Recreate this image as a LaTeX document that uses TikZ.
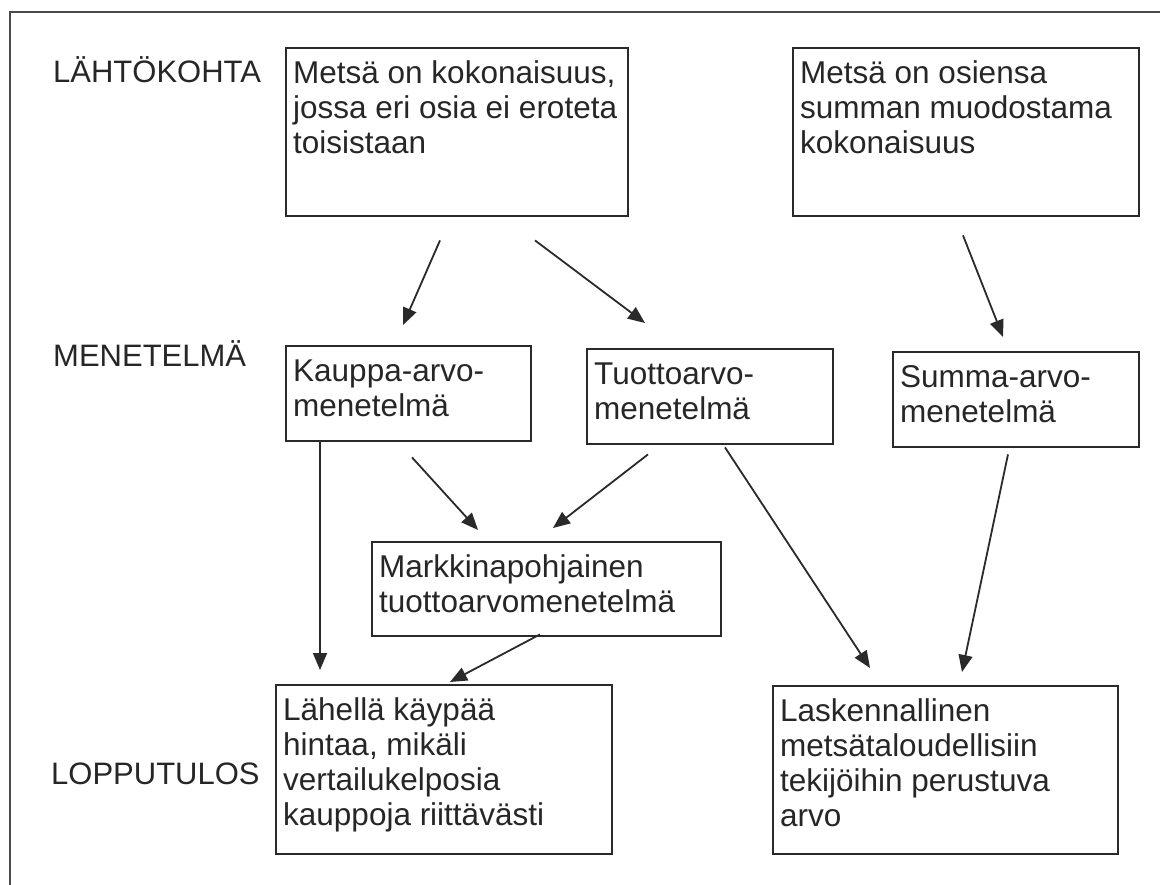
\documentclass[tikz,border=0pt]{standalone}
\usepackage{fontspec}
\setmainfont{Liberation Sans}
\usetikzlibrary{arrows.meta,calc}
\definecolor{txt}{HTML}{262626}
\definecolor{ln}{HTML}{2A2A2A}
\newcommand{\bxtext}[3]{\parbox[c][#2][t]{#1}{\raggedright\leftskip=7pt\rule{0pt}{35.5pt}#3}}
\tikzset{
  boxnode/.style={draw=ln, line width=2.4pt, inner sep=0pt, anchor=north west, text=txt,
    font=\fontsize{31.5}{35}\selectfont},
  lab/.style={anchor=base west, inner sep=0pt, text=txt, font=\fontsize{31}{35}\selectfont},
  arr/.style={draw=ln, line width=1.8pt, -{Triangle[length=17pt,width=14pt]}},
  frameline/.style={draw=ln!85, line width=2.5pt}
}
\begin{document}
\begin{tikzpicture}[x=1pt,y=-1pt]
\useasboundingbox (0,0) rectangle (1160,885);
\draw[frameline] (10,886) -- (10,12) -- (1161,12);

\node[lab] (l1) at (53,83) {LÄHTÖKOHTA};
\node[lab] (l2) at (53,367) {MENETELMÄ};
\node[lab] (l3) at (51,784) {LOPPUTULOS};

\node[boxnode] (box1) at (285,47) {\bxtext{342pt}{168pt}{Metsä on kokonaisuus,\\ jossa eri osia ei eroteta\\ toisistaan}};
\node[boxnode] (box2) at (792,47) {\bxtext{346pt}{168pt}{Metsä on osiensa\\ summan muodostama\\ kokonaisuus}};
\node[boxnode] (kauppa) at (285,345) {\bxtext{245pt}{95pt}{Kauppa-arvo-\\ menetelmä}};
\node[boxnode] (tuotto) at (586,348) {\bxtext{246pt}{95pt}{Tuottoarvo-\\ menetelmä}};
\node[boxnode] (summa) at (892,351) {\bxtext{246pt}{95pt}{Summa-arvo-\\ menetelmä}};
\node[boxnode] (markkina) at (371,541) {\bxtext{349pt}{94pt}{Markkinapohjainen\\ tuottoarvomenetelmä}};
\node[boxnode] (lahella) at (275,684) {\bxtext{336pt}{169pt}{Lähellä käypää\\ hintaa, mikäli\\ vertailukelposia\\ kauppoja riittävästi}};
\node[boxnode] (lask) at (772,685) {\bxtext{345pt}{168pt}{Laskennallinen\\ metsätaloudellisiin\\ tekijöihin perustuva\\ arvo}};

\draw[arr] ($(box1.south west)+(155,23)$) -- ($(kauppa.north west)+(118,-20)$);
\draw[arr] ($(box1.south west)+(250,23)$) -- ($(tuotto.north west)+(59,-25)$);
\draw[arr] ($(box2.south west)+(171,18)$) -- ($(summa.north west)+(111,-14)$);
\draw[arr] ($(kauppa.south west)+(127,15)$) -- ($(markkina.north west)+(107,-11)$);
\draw[arr] ($(tuotto.south west)+(62,9)$) -- ($(markkina.north west)+(182,-13)$);
\draw[arr] ($(kauppa.south west)+(35,0)$) -- ($(lahella.north west)+(45,-14)$);
\draw[arr] ($(markkina.south west)+(169,-3)$) -- ($(lahella.north west)+(175,-2)$);
\draw[arr] ($(tuotto.south west)+(139,2)$) -- ($(lask.north west)+(98,-17)$);
\draw[arr] ($(summa.south west)+(116,6)$) -- ($(lask.north west)+(190,-13)$);
\end{tikzpicture}
\end{document}
